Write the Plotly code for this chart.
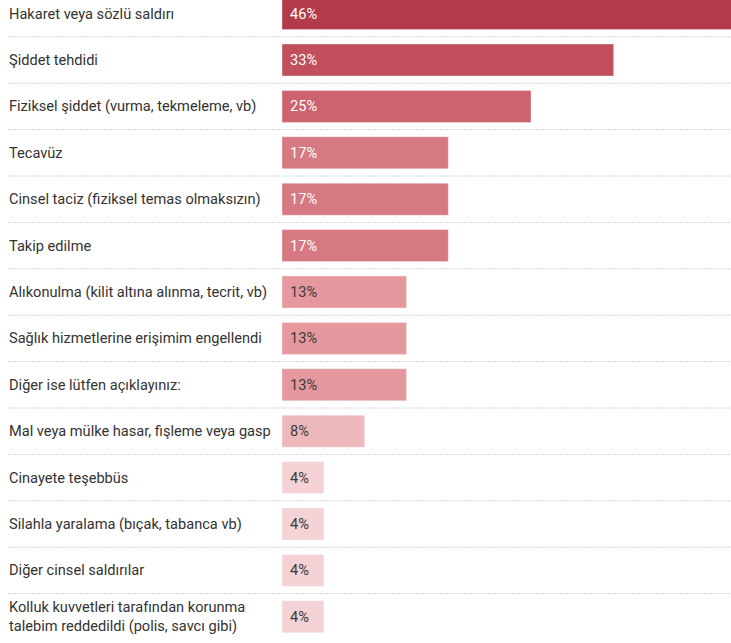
import plotly.graph_objects as go

categories = [
    "Hakaret veya sözlü saldırı",
    "Şiddet tehdidi",
    "Fiziksel şiddet (vurma, tekmeleme, vb)",
    "Tecavüz",
    "Cinsel taciz (fiziksel temas olmaksızın)",
    "Takip edilme",
    "Alıkonulma (kilit altına alınma, tecrit, vb)",
    "Sağlık hizmetlerine erişimim engellendi",
    "Diğer ise lütfen açıklayınız:",
    "Mal veya mülke hasar, fişleme veya gasp",
    "Cinayete teşebbüs",
    "Silahla yaralama (bıçak, tabanca vb)",
    "Diğer cinsel saldırılar",
    "Kolluk kuvvetleri tarafından korunma<br>talebim reddedildi (polis, savcı gibi)",
]
values = [45.8, 33.3, 25.0, 16.7, 16.7, 16.7, 12.5, 12.5, 12.5, 8.3, 4.2, 4.2, 4.2, 4.2]
value_labels = ["46%", "33%", "25%", "17%", "17%", "17%", "13%", "13%", "13%", "8%", "4%", "4%", "4%", "4%"]

bar_colors = ["#b23a4a", "#c24f5c", "#ce6370", "#d77983", "#d77983", "#d77983",
              "#e5989d", "#e5989d", "#e5989d", "#edb8bb", "#f4d2d5", "#f4d2d5",
              "#f4d2d5", "#f4d2d5"]
text_colors = ["#ffffff" if v >= 15 else "#3a3a3a" for v in values]

W, H = 731, 643
row_px = 46.4
first_center = 13.6
r0 = -first_center / row_px
r1 = r0 + H / row_px

ys = list(range(len(categories)))

fig = go.Figure()
fig.add_trace(go.Bar(
    x=values, y=ys, orientation="h",
    marker=dict(color=bar_colors, line=dict(color="rgba(255,255,255,0.35)", width=1)),
    width=0.69, hoverinfo="skip",
))

annotations = []
for i, (c, lab, tc) in enumerate(zip(categories, value_labels, text_colors)):
    annotations.append(dict(
        x=7 / W, xref="paper", y=i, yref="y", text=c, showarrow=False,
        xanchor="left", yanchor="middle", align="left",
        font=dict(family="Roboto", size=14.6, color="#333333"),
    ))
    annotations.append(dict(
        x=0, xref="x", y=i, yref="y", text=lab, showarrow=False,
        xanchor="left", yanchor="middle", xshift=6,
        font=dict(family="Roboto", size=14.6, color=tc),
    ))

shapes = []
for i in range(len(categories) - 1):
    shapes.append(dict(
        type="line", xref="paper", yref="y", x0=8 / W, x1=1, y0=i + 0.5, y1=i + 0.5,
        line=dict(color="#d6d6d6", width=1, dash="2px,1px"), layer="below",
    ))

fig.update_layout(
    width=W, height=H,
    margin=dict(l=0, r=0, t=0, b=0),
    plot_bgcolor="white", paper_bgcolor="white",
    showlegend=False,
    xaxis=dict(domain=[282 / W, 1], range=[0, 449 / 9.96], visible=False, fixedrange=True),
    yaxis=dict(range=[r1, r0], visible=False, fixedrange=True),
    annotations=annotations, shapes=shapes,
)

fig.write_html(
    "out.html",
    config={"displayModeBar": False},
    post_script="document.body.style.margin='0';document.body.style.overflow='hidden';",
)
